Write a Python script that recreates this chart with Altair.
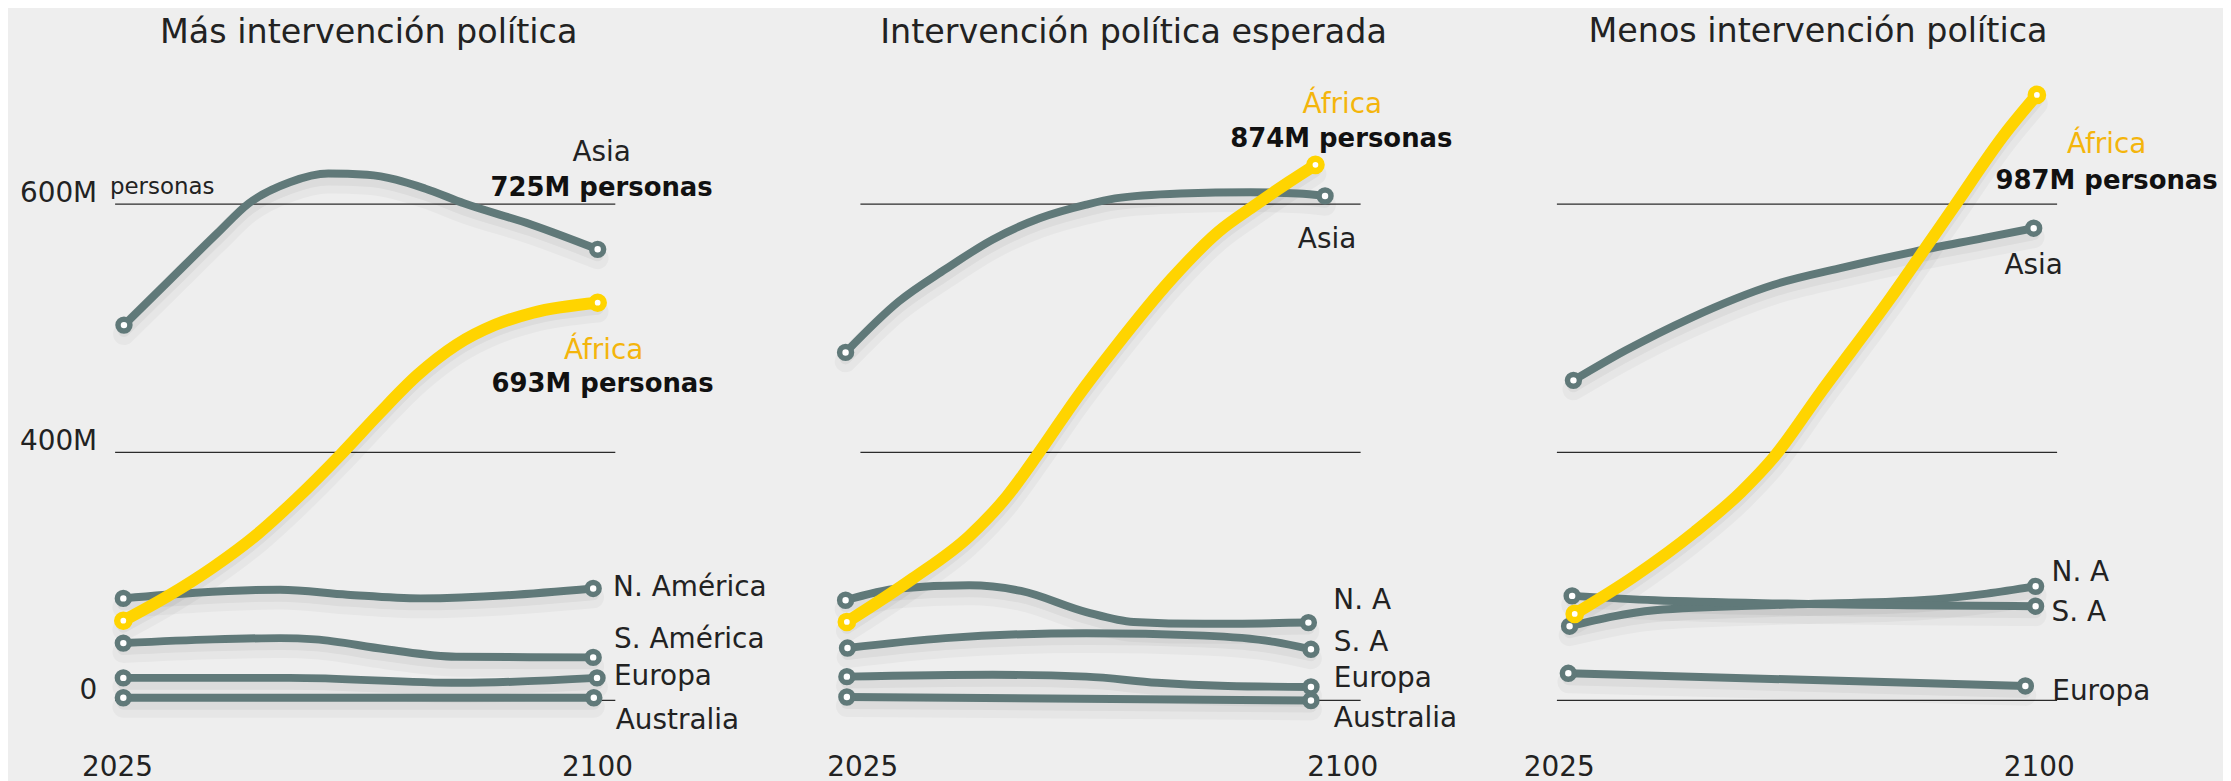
import altair as alt
import pandas as pd

# ---------------- data ----------------
TITLES = ["Más intervención política", "Intervención política esperada", "Menos intervención política"]

X_TICKS = [2025, 2100]
Y_TICKS = [200, 400, 600]
Y_TICK_LABELS = ["0", "400M", "600M"]
UNIT_LABEL = "personas"

# Panel 1 - Más intervención política  (year, value)
mas_asia = [(2026.1, 502), (2033.2, 538), (2040.7, 576), (2045.6, 600), (2052.0, 617), (2058.0, 624),
            (2064.1, 623), (2073.1, 612), (2079.2, 600), (2089.7, 583), (2100.1, 563)]
mas_africa = [(2026.0, 264), (2033.0, 284), (2040.0, 307), (2047.0, 334), (2053.0, 362), (2060.0, 398),
              (2066.0, 431), (2072.0, 462), (2078.0, 486), (2084.0, 502), (2090.0, 512), (2100.1, 520)]
mas_na = [(2026.0, 282), (2037.3, 286.5), (2050.5, 289), (2061.0, 285), (2072.4, 282), (2099.4, 290)]
mas_sa = [(2026.0, 246), (2040.0, 249), (2050.5, 250), (2056.0, 249), (2067.0, 241), (2078.0, 235), (2099.4, 234.5)]
mas_eu = [(2026.0, 218), (2052.0, 218), (2078.5, 214), (2100.0, 218)]
mas_au = [(2026.0, 202), (2099.5, 202)]

# Panel 2 - Intervención política esperada
esp_asia = [(2022.4, 480), (2030.7, 521), (2038.0, 547), (2045.4, 571), (2052.7, 588), (2060.0, 599),
            (2064.5, 604), (2074.7, 608), (2085.7, 609), (2093.1, 608), (2097.3, 606)]
esp_africa = [(2022.6, 263), (2032.9, 298), (2041.7, 332), (2047.6, 364), (2052.7, 400), (2058.6, 444),
              (2064.5, 484), (2073.3, 539), (2080.6, 577), (2086.5, 599), (2091.6, 617), (2095.8, 631)]
esp_na = [(2022.4, 280.5), (2030.7, 290), (2041.7, 292.5), (2049.8, 288), (2060.0, 271), (2067.4, 263),
          (2078.4, 261.5), (2094.7, 262.5)]
esp_sa = [(2022.7, 242), (2038.0, 250), (2060.0, 254), (2078.4, 252), (2089.4, 247), (2095.1, 241)]
esp_eu = [(2022.6, 219), (2045.4, 220.5), (2060.0, 219), (2071.1, 214), (2082.1, 211.5), (2095.1, 210.7)]
esp_au = [(2022.6, 202.6), (2095.1, 199.8)]

# Panel 3 - Menos intervención política
men_asia = [(2027.3, 457.5), (2035.4, 481.5), (2045.5, 507.5), (2058.6, 534.5), (2069.5, 548.5),
            (2080.4, 561), (2091.3, 572), (2099.2, 580)]
men_africa = [(2027.5, 269.5), (2036.8, 299.7), (2046.3, 335.7), (2053.5, 367.7), (2058.6, 395.6),
              (2065.9, 447.6), (2076.8, 523.5), (2086.5, 595.4), (2094.9, 657.3), (2099.7, 687.3)]
men_na = [(2026.7, 259.6), (2040.0, 272.4), (2060.7, 277), (2081.5, 280.5), (2091.9, 285.8), (2099.5, 291.7)]
men_sa = [(2027.1, 284), (2040.0, 280.5), (2060.7, 277.8), (2099.5, 275.7)]
men_eu = [(2026.5, 221.7), (2097.9, 211.5)]

mas_names = {"asia": "Asia", "africa": "África", "na": "N. América", "sa": "S. América",
             "eu": "Europa", "au": "Australia"}
esp_names = {"africa": "África", "asia": "Asia", "na": "N. A", "sa": "S. A", "eu": "Europa", "au": "Australia"}
men_names = {"africa": "África", "asia": "Asia", "na": "N. A", "sa": "S. A", "eu": "Europa"}

mas_callouts = {"asia": "725M personas", "africa": "693M personas"}
esp_callouts = {"africa": "874M personas"}
men_callouts = {"africa": "987M personas"}

# ---------------- styles / layout ----------------
FONT = "DejaVu Sans"
LIGHT = "normal"
GRAY = "#607979"
YELLOW = "#FFD400"
AFRICA_TEXT = "#F4B50C"
INK = "#222222"
BG = "#EEEEEE"
GRID = "#2b2b2b"

GRID_W = 502          # width covered by the gridlines
PANEL_W = [551, 502, 502]
PANEL_H = 673.2
X_DOMAIN = [2024.64, 2102.78]
Y_DOMAIN = [160, 700]
TITLE_DX = [-20.5, 23.6, 11.5]
TITLE_OFFSET = [2.6, 2.6, -15.6]

# (align, dx, dy) relative to each line's last point
NAME_POS = [
    {"asia": ("center", 4, -89), "africa": ("center", 6, 56), "na": ("left", 20, 8),
     "sa": ("left", 21, -9), "eu": ("left", 17, 7), "au": ("left", 22, 31)},
    {"africa": ("center", 27, -52), "asia": ("center", 2, 52), "na": ("left", 25, -14),
     "sa": ("left", 23, 2), "eu": ("left", 23, 0), "au": ("left", 23, 27)},
    {"africa": ("center", 70, 58), "asia": ("center", 0, 46), "na": ("left", 16, -5),
     "sa": ("left", 16, 15), "eu": ("left", 27, 14)},
]
CALLOUT_POS = [
    {"asia": (4, -54), "africa": (5, 90)},
    {"africa": (26, -18)},
    {"africa": (70, 94)},
]


def frame(lines):
    rows = []
    for key, pts in lines.items():
        for i, (yr, v) in enumerate(pts):
            rows.append({"region": key, "year": yr, "value": v, "seq": i})
    return pd.DataFrame(rows)


label_expr = " : ".join(
    f"datum.value == {v} ? '{t}'" for v, t in zip(Y_TICKS, Y_TICK_LABELS)
) + " : ''"


def panel(idx, lines, names, callouts, show_y):
    df = frame(lines)
    g = df.groupby("region", sort=False)
    ends = pd.concat([g.head(1), g.tail(1)])
    last = g.tail(1)

    xscale = alt.Scale(domain=X_DOMAIN, range=[0, GRID_W], nice=False, zero=False)
    yscale = alt.Scale(domain=Y_DOMAIN, nice=False, zero=False)

    x_axis = alt.Axis(values=X_TICKS, format="d", title=None, domain=False, ticks=False, tickSize=0,
                      grid=False, labelFont=FONT, labelFontSize=28, labelFontWeight=LIGHT,
                      labelColor=INK, labelPadding=4, labelFlush=False, labelBaseline="top")
    if show_y:
        y_axis = alt.Axis(values=Y_TICKS, labelExpr=label_expr, title=None, domain=False, ticks=False,
                          tickSize=0, grid=True, gridColor=GRID, gridWidth=1.3,
                          labelFont=FONT, labelFontSize=28, labelFontWeight=LIGHT, labelColor=INK,
                          labelPadding=18, labelBaseline="alphabetic", labelOffset=-2,
                          minExtent=96, maxExtent=96)
    else:
        y_axis = alt.Axis(values=Y_TICKS, labels=False, title=None, domain=False, ticks=False,
                          tickSize=0, grid=True, gridColor=GRID, gridWidth=1.3,
                          minExtent=0, maxExtent=0)

    X = alt.X("year:Q", scale=xscale, axis=x_axis)
    Y = alt.Y("value:Q", scale=yscale, axis=y_axis)

    layers = []
    layers.append(alt.Chart(df).mark_line(interpolate="monotone", color="#000000", opacity=0.03,
                                          strokeWidth=22, yOffset=9, strokeCap="round")
                  .encode(x=X, y=Y, detail="region:N", order="seq:Q"))
    layers.append(alt.Chart(df).mark_line(interpolate="monotone", color="#000000", opacity=0.045,
                                          strokeWidth=12, yOffset=6, strokeCap="round")
                  .encode(x=X, y=Y, detail="region:N", order="seq:Q"))
    layers.append(alt.Chart(df).transform_filter("datum.region != 'africa'")
                  .mark_line(interpolate="monotone", color=GRAY, strokeWidth=8, strokeCap="round")
                  .encode(x=X, y=Y, detail="region:N", order="seq:Q"))
    layers.append(alt.Chart(df).transform_filter("datum.region == 'africa'")
                  .mark_line(interpolate="monotone", color=YELLOW, strokeWidth=12, strokeCap="round")
                  .encode(x=X, y=Y, detail="region:N", order="seq:Q"))
    layers.append(alt.Chart(ends).transform_filter("datum.region != 'africa'")
                  .mark_circle(size=143, fill="white", stroke=GRAY, strokeWidth=5.5, opacity=1)
                  .encode(x=X, y=Y))
    layers.append(alt.Chart(ends).transform_filter("datum.region == 'africa'")
                  .mark_circle(size=150, fill="white", stroke=YELLOW, strokeWidth=6.5, opacity=1)
                  .encode(x=X, y=Y))

    for key, text in names.items():
        align, dx, dy = NAME_POS[idx][key]
        color = AFRICA_TEXT if key == "africa" else INK
        layers.append(alt.Chart(last).transform_filter(alt.datum.region == key)
                      .mark_text(align=align, baseline="alphabetic", dx=dx, dy=dy, font=FONT,
                                 fontSize=28, fontWeight=LIGHT, color=color)
                      .encode(x=X, y=Y, text=alt.value(text)))
    for key, text in callouts.items():
        dx, dy = CALLOUT_POS[idx][key]
        layers.append(alt.Chart(last).transform_filter(alt.datum.region == key)
                      .mark_text(align="center", baseline="alphabetic", dx=dx, dy=dy, font=FONT,
                                 fontSize=26, fontWeight="bold", color="#111111")
                      .encode(x=X, y=Y, text=alt.value(text)))
    if show_y:
        unit = pd.DataFrame({"year": [X_TICKS[0]], "value": [Y_TICKS[-1]]})
        layers.append(alt.Chart(unit)
                      .mark_text(align="left", baseline="alphabetic", dx=-7, dy=-9, font=FONT,
                                 fontSize=23, fontWeight=LIGHT, color=INK)
                      .encode(x=X, y=Y, text=alt.value(UNIT_LABEL)))

    return alt.layer(*layers).properties(
        width=PANEL_W[idx], height=PANEL_H,
        title=alt.TitleParams(TITLES[idx], fontSize=33.5, font=FONT, fontWeight=LIGHT, color=INK,
                              anchor="middle", frame="group", baseline="alphabetic",
                              offset=TITLE_OFFSET[idx], dx=TITLE_DX[idx]),
    )


p1 = panel(0, {"asia": mas_asia, "africa": mas_africa, "na": mas_na, "sa": mas_sa, "eu": mas_eu, "au": mas_au},
           mas_names, mas_callouts, True)
p2 = panel(1, {"asia": esp_asia, "africa": esp_africa, "na": esp_na, "sa": esp_sa, "eu": esp_eu, "au": esp_au},
           esp_names, esp_callouts, False)
p3 = panel(2, {"asia": men_asia, "africa": men_africa, "na": men_na, "sa": men_sa, "eu": men_eu},
           men_names, men_callouts, False)

chart = alt.hconcat(p1, p2, p3, spacing=197, bounds="flush").properties(
    padding={"left": 11, "top": 5, "right": 5, "bottom": 5}
).configure(background=BG).configure_view(stroke=None)

chart.save("out.html", embed_options={"renderer": "svg", "actions": False})
